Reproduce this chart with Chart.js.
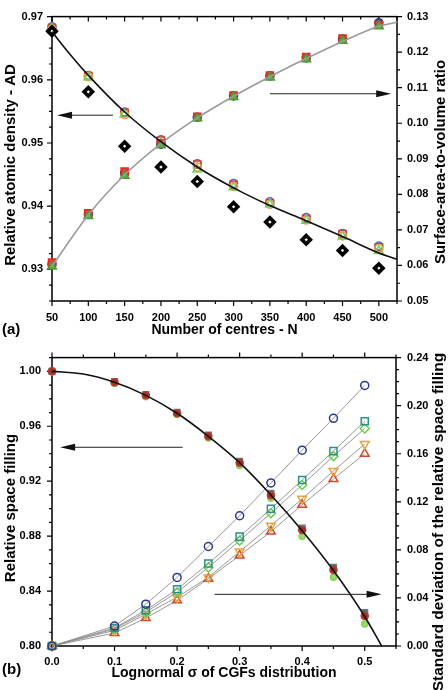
<!DOCTYPE html>
<html>
<head>
<meta charset="utf-8">
<script src="https://cdn.jsdelivr.net/npm/chart.js@4/dist/chart.umd.min.js"></script>
<style>
  html, body { margin: 0; padding: 0; background: #fff; }
  #wrap { position: relative; width: 448px; height: 690px; }
  .panel { position: absolute; left: 0; width: 448px; }
  #pa { top: 0; height: 340px; }
  #pb { top: 340px; height: 350px; }
</style>
</head>
<body>
<div id="wrap">
  <div class="panel" id="pa"><canvas id="chartA"></canvas></div>
  <div class="panel" id="pb"><canvas id="chartB"></canvas></div>
</div>
<script>
// ---- panel (a): atomic density and surface-to-volume vs number of centres
const centres = [50, 100, 150, 200, 250, 300, 350, 400, 450, 500];
const adCircle   = [0.9684, 0.9607, 0.9549, 0.9505, 0.9467, 0.9436, 0.9407, 0.9382, 0.9357, 0.9337];
const adSquare   = [0.9682, 0.9606, 0.9548, 0.9504, 0.9466, 0.9434, 0.9405, 0.9380, 0.9356, 0.9335];
const adOrange   = [0.9680, 0.9605, 0.9545, 0.9499, 0.9462, 0.9431, 0.9403, 0.9378, 0.9353, 0.9333];
const adTriangle = [0.9681, 0.9604, 0.9545, 0.9500, 0.9458, 0.9430, 0.9403, 0.9377, 0.9352, 0.9329];
const adDiamond  = [0.9677, 0.9581, 0.9495, 0.9462, 0.9439, 0.9399, 0.9375, 0.9347, 0.9330, 0.9302];
const adFitN = [50, 75, 100, 150, 200, 250, 300, 350, 400, 450, 500, 525];
const adFit  = [0.9676, 0.9640, 0.9607, 0.9549, 0.9502, 0.9462, 0.9429, 0.9401, 0.9377, 0.9352, 0.9326, 0.9316];
const svRed   = [0.0608, 0.0747, 0.0864, 0.0943, 0.1018, 0.1078, 0.1134, 0.1186, 0.1238, 0.1277];
const svBlue  = [0.0604, 0.0744, 0.0860, 0.0941, 0.1017, 0.1077, 0.1133, 0.1184, 0.1237, 0.1283];
const svGreen = [0.0597, 0.0739, 0.0852, 0.0938, 0.1014, 0.1074, 0.1129, 0.1180, 0.1232, 0.1273];
const svFitN = [50, 100, 150, 200, 250, 300, 350, 400, 450, 500, 525];
const svFit  = [0.0598, 0.0742, 0.0855, 0.0943, 0.1015, 0.1076, 0.1131, 0.1182, 0.1230, 0.1273, 0.1284];

// ---- panel (b): space filling and its standard deviation vs lognormal sigma
const sigma = [0, 0.1, 0.15, 0.2, 0.25, 0.3, 0.35, 0.4, 0.45, 0.5];
const sdCircle  = [0, 0.0166, 0.0348, 0.0571, 0.0828, 0.1084, 0.1357, 0.1630, 0.1895, 0.2168];
const sdSquare  = [0, 0.0150, 0.0298, 0.0472, 0.0687, 0.0910, 0.1142, 0.1382, 0.1622, 0.1870];
const sdDiamond = [0, 0.0142, 0.0282, 0.0447, 0.0654, 0.0877, 0.1105, 0.1340, 0.1580, 0.1810];
const sdDown    = [0, 0.0130, 0.0265, 0.0406, 0.0571, 0.0786, 0.1000, 0.1225, 0.1457, 0.1680];
const sdUp      = [0, 0.0108, 0.0232, 0.0380, 0.0560, 0.0753, 0.0952, 0.1175, 0.1390, 0.1600];
const rsTeal  = [1.000, 0.9925, 0.9830, 0.9702, 0.9535, 0.9345, 0.9112, 0.8858, 0.8572, 0.8243];
const rsRed   = [1.000, 0.9920, 0.9825, 0.9695, 0.9527, 0.9335, 0.9098, 0.8844, 0.8553, 0.8218];
const rsGreen = [0.9995, 0.9912, 0.9815, 0.9685, 0.9515, 0.9315, 0.9075, 0.8800, 0.8500, 0.8160];
const rsFitX = [0, 0.05, 0.1, 0.15, 0.2, 0.25, 0.3, 0.35, 0.4, 0.45, 0.5, 0.527];
const rsFit  = [1.000, 0.998, 0.992, 0.9825, 0.9695, 0.9527, 0.9335, 0.9100, 0.8840, 0.8550, 0.8215, 0.800];

Chart.defaults.font.family = '"Liberation Sans", Arial, sans-serif';
Chart.defaults.color = '#000';

const pts = (xs, ys) => xs.map((x, i) => ({ x: x, y: ys[i] }));

function markers(xs, ys, axis, style, color, fill, radius, extra) {
    return Object.assign({
        data: pts(xs, ys),
        yAxisID: axis,
        pointStyle: style,
        pointRadius: radius,
        pointBorderColor: color,
        pointBackgroundColor: fill,
        pointBorderWidth: 1.5,
        showLine: false,
        clip: false
    }, extra || {});
}

function fitLine(xs, ys, axis, color, width) {
    return {
        data: pts(xs, ys),
        yAxisID: axis,
        showLine: true,
        pointRadius: 0,
        borderColor: color,
        borderWidth: width,
        cubicInterpolationMode: 'monotone',
        clip: false
    };
}

// frame box plus major/minor tick marks drawn through the scales
const frameTicks = {
    id: 'frameTicks',
    beforeDatasetsDraw(chart, args, opts) {
        const { ctx, chartArea: a } = chart;
        ctx.save();
        ctx.strokeStyle = '#000';
        ctx.lineWidth = 1.5;
        ctx.strokeRect(a.left, a.top, a.right - a.left, a.bottom - a.top);
        ctx.lineWidth = 1.2;
        ctx.beginPath();
        opts.axes.forEach(ax => {
            const s = chart.scales[ax.scale];
            const n = Math.round((s.max - ax.from) / ax.minor);
            for (let i = 0; i <= n; i++) {
                const v = ax.from + i * ax.minor;
                const q = v / ax.major;
                const major = Math.abs(q - Math.round(q)) < 1e-6;
                const len = (major ? 5 : 3) * ax.dir;
                const p = s.getPixelForValue(v);
                if (ax.side === 'bottom') { ctx.moveTo(p, a.bottom); ctx.lineTo(p, a.bottom + len); }
                if (ax.side === 'top') { ctx.moveTo(p, a.top); ctx.lineTo(p, a.top - len); }
                if (ax.side === 'left') { ctx.moveTo(a.left, p); ctx.lineTo(a.left - len, p); }
                if (ax.side === 'right') { ctx.moveTo(a.right, p); ctx.lineTo(a.right + len, p); }
            }
        });
        ctx.stroke();
        ctx.restore();
    }
};

// horizontal arrows pointing to the axis a series belongs to
const arrows = {
    id: 'arrows',
    afterDatasetsDraw(chart, args, opts) {
        const { ctx } = chart;
        ctx.save();
        ctx.strokeStyle = '#222';
        ctx.fillStyle = '#111';
        ctx.lineWidth = 1;
        opts.items.forEach(it => {
            const x1 = chart.scales.x.getPixelForValue(it.from);
            const x2 = chart.scales.x.getPixelForValue(it.to);
            const y = chart.scales[it.axis].getPixelForValue(it.at);
            const d = x2 > x1 ? 1 : -1;
            ctx.beginPath();
            ctx.moveTo(x1, y);
            ctx.lineTo(x2 - d * 12, y);
            ctx.stroke();
            ctx.beginPath();
            ctx.moveTo(x2, y);
            ctx.lineTo(x2 - d * 15, y - 3.5);
            ctx.lineTo(x2 - d * 15, y + 3.5);
            ctx.closePath();
            ctx.fill();
        });
        ctx.restore();
    }
};

// side titles (read bottom to top on both sides) and panel letters
const panelText = {
    id: 'panelText',
    afterDraw(chart, args, opts) {
        const { ctx } = chart;
        ctx.save();
        ctx.fillStyle = '#000';
        opts.items.forEach(it => {
            ctx.font = 'bold ' + it.size + 'px "Liberation Sans", Arial, sans-serif';
            ctx.textBaseline = 'middle';
            ctx.save();
            ctx.translate(it.x, it.y);
            if (it.vertical) {
                ctx.rotate(-Math.PI / 2);
                ctx.textAlign = 'center';
            } else {
                ctx.textAlign = 'left';
            }
            ctx.fillText(it.text, 0, 0);
            ctx.restore();
        });
        ctx.restore();
    }
};

const tickFont = { size: 11, weight: 'bold' };
const titleFont = { size: 14, weight: 'bold' };

function baseScale(extra) {
    return Object.assign({
        type: 'linear',
        grid: { display: false, drawTicks: false },
        border: { display: false }
    }, extra);
}

// ---- chart (a)
new Chart(document.getElementById('chartA'), {
    type: 'scatter',
    data: {
        datasets: [
            fitLine(adFitN, adFit, 'y', '#111', 1.6),
            fitLine(svFitN, svFit, 'y2', '#9a9a9a', 1.6),
            markers(centres, svGreen, 'y2', 'triangle', '#4d9a35', '#5db045', 5),
            markers(centres, svRed, 'y2', 'rect', '#e02a25', '#ee3a30', 5),
            markers(centres, svBlue, 'y2', 'circle', '#1f3f95', '#2d55a8', 4),
            markers(centres, adDiamond, 'y', 'rectRot', '#000', '#fff', 4.2, { pointBorderWidth: 3.6 }),
            markers(centres, adTriangle, 'y', 'triangle', '#7ccc5c', 'rgba(0,0,0,0)', 5),
            markers(centres, adOrange, 'y', 'circle', '#e6a24c', 'rgba(0,0,0,0)', 4),
            markers(centres, adSquare, 'y', 'rect', '#d8383c', 'rgba(0,0,0,0)', 5),
            markers(centres, adCircle, 'y', 'circle', '#5466c4', 'rgba(0,0,0,0)', 4)
        ]
    },
    plugins: [frameTicks, arrows, panelText],
    options: {
        responsive: true,
        maintainAspectRatio: false,
        animation: false,
        events: [],
        layout: { padding: { top: 13, left: 0, right: 0, bottom: 0 } },
        plugins: {
            legend: { display: false },
            tooltip: { enabled: false },
            frameTicks: {
                axes: [
                    { scale: 'x', side: 'bottom', from: 50, minor: 25, major: 50, dir: 1 },
                    { scale: 'x', side: 'top', from: 50, minor: 25, major: 50, dir: -1 },
                    { scale: 'y', side: 'left', from: 0.925, minor: 0.0025, major: 0.01, dir: 1 },
                    { scale: 'y2', side: 'right', from: 0.05, minor: 0.005, major: 0.01, dir: 1 }
                ]
            },
            arrows: {
                items: [
                    { axis: 'y', at: 0.9544, from: 134, to: 57 },
                    { axis: 'y2', at: 0.1083, from: 350, to: 517 }
                ]
            },
            panelText: {
                items: [
                    { text: 'Relative atomic density - AD', x: 11, y: 165, size: 15, vertical: true },
                    { text: 'Surface-area-to-volume ratio', x: 441, y: 162, size: 15, vertical: true },
                    { text: '(a)', x: 2, y: 330, size: 15 }
                ]
            }
        },
        scales: {
            x: baseScale({
                position: 'bottom', min: 50, max: 525,
                ticks: { stepSize: 50, includeBounds: false, autoSkip: false, maxRotation: 0, padding: 10, font: tickFont },
                title: { display: true, text: 'Number of centres - N', font: titleFont, padding: { top: 0, bottom: 1 } },
                afterFit: s => { s.height = 39; }
            }),
            y: baseScale({
                position: 'left', min: 0.925, max: 0.97,
                ticks: { stepSize: 0.01, includeBounds: false, autoSkip: false, padding: 9, font: tickFont,
                         callback: v => v.toFixed(2) },
                afterFit: s => { s.width = 52; }
            }),
            y2: baseScale({
                position: 'right', min: 0.05, max: 0.13,
                ticks: { stepSize: 0.01, includeBounds: false, autoSkip: false, padding: 10, font: tickFont,
                         callback: v => v.toFixed(2) },
                afterFit: s => { s.width = 51; }
            })
        }
    }
});

// ---- chart (b)
const greyLine = { showLine: true, borderColor: '#8c8c8c', borderWidth: 0.9 };

new Chart(document.getElementById('chartB'), {
    type: 'scatter',
    data: {
        datasets: [
            fitLine(rsFitX, rsFit, 'y', '#111', 1.6),
            markers(sigma, rsRed, 'y', 'circle', '#b83c2c', '#9a3226', 3.5),
            markers(sigma, rsTeal, 'y', 'rect', '#5a7f8a', '#6a5a5a', 4),
            markers(sigma, rsGreen, 'y', 'circle', '#86d060', '#96dc70', 3),
            markers(sigma, sdCircle, 'y2', 'circle', '#2a3590', 'rgba(0,0,0,0)', 4, greyLine),
            markers(sigma, sdSquare, 'y2', 'rect', '#2a9088', 'rgba(0,0,0,0)', 5, greyLine),
            markers(sigma, sdDiamond, 'y2', 'rectRot', '#66d048', 'rgba(0,0,0,0)', 4.5, greyLine),
            markers(sigma, sdDown, 'y2', 'triangle', '#eba13a', 'rgba(0,0,0,0)', 5, Object.assign({ pointRotation: 180 }, greyLine)),
            markers(sigma, sdUp, 'y2', 'triangle', '#d04a2a', 'rgba(0,0,0,0)', 5, greyLine)
        ]
    },
    plugins: [frameTicks, arrows, panelText],
    options: {
        responsive: true,
        maintainAspectRatio: false,
        animation: false,
        events: [],
        layout: { padding: { top: 17, left: 0, right: 0, bottom: 0 } },
        plugins: {
            legend: { display: false },
            tooltip: { enabled: false },
            frameTicks: {
                axes: [
                    { scale: 'x', side: 'bottom', from: 0, minor: 0.05, major: 0.1, dir: 1 },
                    { scale: 'x', side: 'top', from: 0, minor: 0.05, major: 0.1, dir: 1 },
                    { scale: 'y', side: 'left', from: 0.8, minor: 0.01, major: 0.04, dir: 1 },
                    { scale: 'y2', side: 'right', from: 0, minor: 0.01, major: 0.04, dir: 1 }
                ]
            },
            arrows: {
                items: [
                    { axis: 'y', at: 0.9447, from: 0.209, to: 0.013 },
                    { axis: 'y2', at: 0.043, from: 0.26, to: 0.527 }
                ]
            },
            panelText: {
                items: [
                    { text: 'Relative space filling', x: 11, y: 168, size: 15, vertical: true },
                    { text: 'Standard deviation of the relative space filling', x: 439, y: 182, size: 15.5, vertical: true },
                    { text: '(b)', x: 2, y: 330, size: 15 }
                ]
            }
        },
        scales: {
            x: baseScale({
                position: 'bottom', min: 0, max: 0.55,
                ticks: { stepSize: 0.1, includeBounds: false, autoSkip: false, maxRotation: 0, padding: 9, font: tickFont,
                         callback: v => v.toFixed(1) },
                title: { display: true, text: 'Lognormal σ of CGFs distribution', font: titleFont, padding: { top: 0, bottom: 8 } },
                afterFit: s => { s.height = 44; }
            }),
            y: baseScale({
                position: 'left', min: 0.8, max: 1.01,
                ticks: { stepSize: 0.04, includeBounds: false, autoSkip: false, padding: 11, font: tickFont,
                         callback: v => v.toFixed(2) },
                afterFit: s => { s.width = 52; }
            }),
            y2: baseScale({
                position: 'right', min: 0, max: 0.24,
                ticks: { stepSize: 0.04, includeBounds: false, autoSkip: false, padding: 11, font: tickFont,
                         callback: v => v.toFixed(2) },
                afterFit: s => { s.width = 52; }
            })
        }
    }
});
</script>
</body>
</html>
